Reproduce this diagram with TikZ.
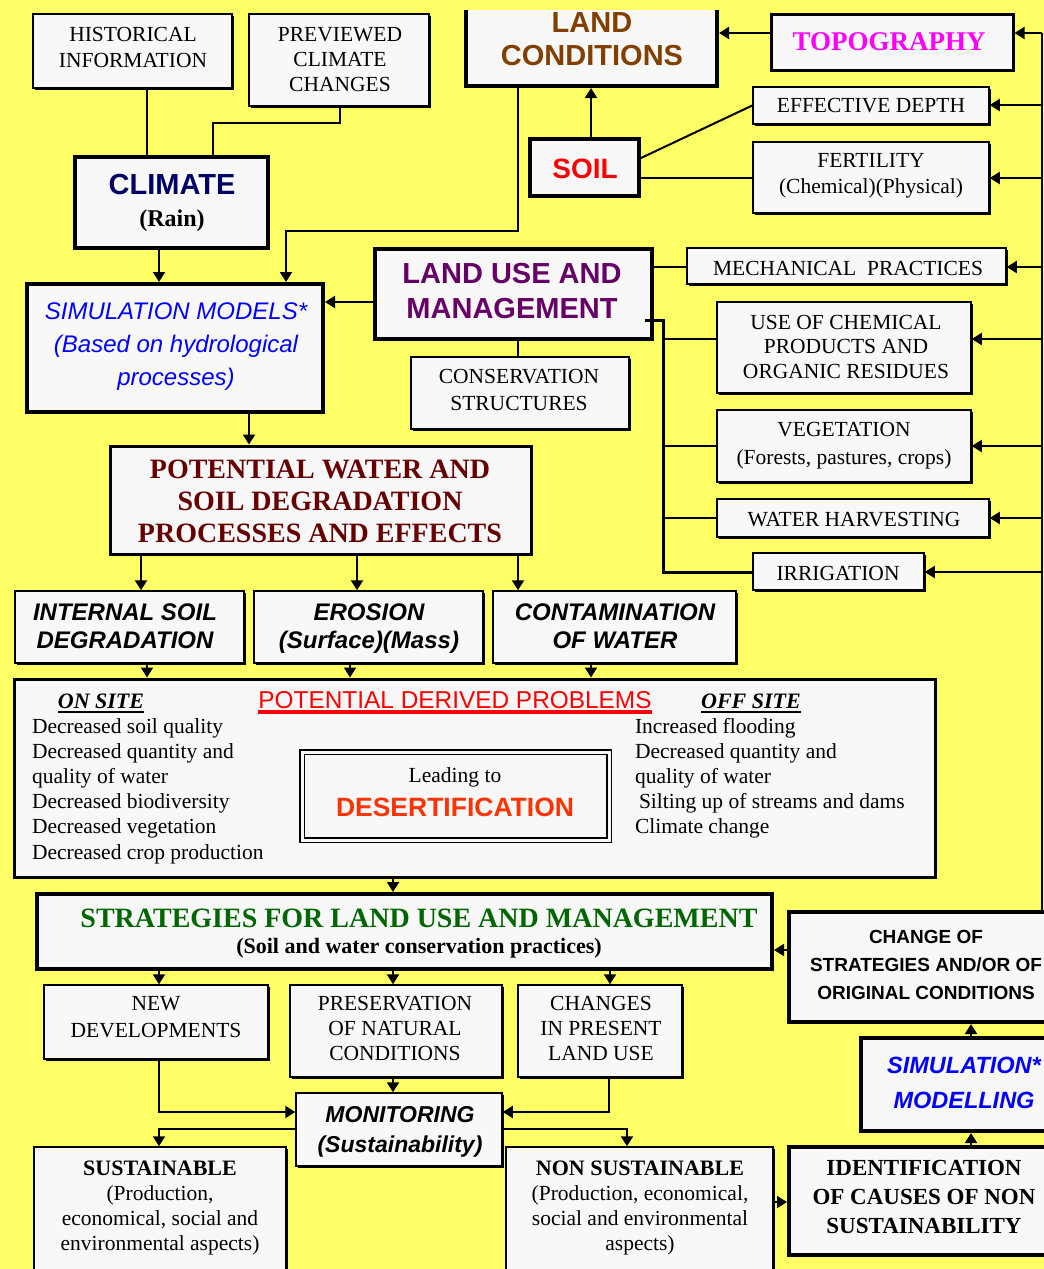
\documentclass[tikz,border=0pt]{standalone}
\usepackage{fontspec}
\setmainfont{Liberation Serif}
\setsansfont{Liberation Sans}
\usetikzlibrary{arrows.meta,shadows}
\definecolor{bg}{HTML}{FFFF66}
\definecolor{boxfill}{HTML}{F8F8F8}
\definecolor{navyc}{HTML}{000066}
\definecolor{brownc}{HTML}{804000}
\definecolor{magc}{HTML}{FF00FF}
\definecolor{purplec}{HTML}{660066}
\definecolor{bluec}{HTML}{0000FF}
\definecolor{darkredc}{HTML}{660000}
\definecolor{redc}{HTML}{FF0000}
\definecolor{desertc}{HTML}{FF3300}
\definecolor{greenc}{HTML}{006600}
\newcommand\fs[2]{\fontsize{#1}{#2}\selectfont}
\newcommand\ulbox[3]{\vtop{\hbox{#3}\kern#1pt\hrule height #2pt}}
\newcommand\bx[6]{\node[#1,minimum width={(#5-#3)*1pt},minimum height={(#6-#4)*1pt}] (#2) at ({(#3+#5)/2},{(#4+#6)/2}) {};}
\newcommand\tx[6][]{\node[txt,#1] (#2) at (#3,{#4-0.7*#5}) {\strut #6};}
\begin{document}
\begin{tikzpicture}[x=1pt,y=-1pt,
  conn/.style={draw=black,line width=2pt},
  arr/.style={conn,-{Triangle[length=10pt,width=12pt]}},
  thickbox/.style={draw,line width=4pt,fill=boxfill,inner sep=0pt},
  opentopbox/.style={fill=boxfill,inner sep=0pt,outer sep=0pt},
  medbox/.style={draw,line width=3pt,fill=boxfill,inner sep=0pt},
  thinbox/.style={draw,line width=1.5pt,fill=boxfill,inner sep=0pt,
    drop shadow={shadow xshift=1.8pt,shadow yshift=-1.8pt,fill=black,opacity=1}},
  dblbox/.style={draw,line width=1.5pt,double=boxfill,double distance=3pt,fill=boxfill,inner sep=0pt},
  txt/.style={inner sep=0pt,outer sep=0pt,anchor=north,align=center},
  rm/.style={font=\fs{21.5}{#1}},
]
\useasboundingbox (0,0) rectangle (1044,1269);
\fill[bg] (0,0) rectangle (1044,1269);
\begin{scope}
\clip (0,0) rectangle (1044,1269);
% ---------- boxes
\bx{thinbox}{hist}{33}{14}{232}{88}
\bx{thinbox}{prev}{249}{14}{429}{106}
\bx{thickbox}{climate}{75}{157}{268}{248}
\bx{opentopbox}{landcond}{466}{10}{717}{86}
\draw[line width=4pt] (landcond.north west) -- (landcond.south west) -- (landcond.south east) -- (landcond.north east);
\bx{medbox}{topo}{771}{14}{1013}{70}
\bx{thinbox}{effdepth}{753}{87}{989}{124}
\bx{thinbox}{fert}{753}{142}{989}{213}
\bx{thickbox}{soil}{530}{139}{639}{196}
\bx{thickbox}{landuse}{375}{249}{652}{339}
\bx{thickbox}{simmod}{27}{284}{323}{412}
\bx{thinbox}{cons}{411}{357}{629}{429}
\bx{thinbox}{mech}{687}{248}{1006}{284}
\bx{thinbox}{chem}{717}{302}{971}{393}
\bx{thinbox}{veg}{717}{410}{971}{482}
\bx{thinbox}{water}{717}{499}{989}{537}
\bx{thinbox}{irrig}{753}{553}{924}{590}
\bx{medbox}{potential}{110}{446}{531}{554}
\bx{thinbox}{internal}{15}{591}{244}{663}
\bx{thinbox}{erosion}{254}{591}{483}{663}
\bx{thinbox}{contam}{493}{591}{736}{663}
\bx{medbox}{problems}{14}{679}{935}{877}
\bx{dblbox}{desert}{302}{752}{609}{840}
\bx{thickbox}{strategies}{37}{894}{772}{969}
\bx{thinbox}{newdev}{44}{985}{268}{1059}
\bx{thinbox}{pres}{290}{985}{502}{1077}
\bx{thinbox}{changes}{518}{985}{682}{1077}
\bx{thinbox}{monitor}{296}{1093}{502}{1166}
\bx{thinbox}{sust}{34}{1147}{286}{1290}
\bx{thinbox}{nonsust}{506}{1147}{773}{1290}
\bx{thickbox}{ident}{789}{1147}{1070}{1255}
\bx{thickbox}{simmodel}{861}{1038}{1070}{1131}
\bx{thickbox}{change}{789}{912}{1070}{1022}
% ---------- connectors
\draw[conn] (147,0 |- hist.south) -- (147,0 |- climate.north);
\draw[conn] (340,0 |- prev.south) -- (340,123) -| (213,0 |- climate.north);
\draw[arr] (518,88) -- (518,231) -| (286,0 |- simmod.north);
\draw[arr] (topo.west |- 0,33) -- (719,33);
\draw[arr] (591,0 |- soil.north) -- (591,88);
\draw[conn] (soil.east |- 0,158) -- (effdepth.west);
\draw[conn] (soil.east |- 0,178) -- (fert.west |- 0,178);
\draw[conn] (1042,0 |- change.north) -- (1042,33);
\foreach \n/\y in {topo/33,effdepth/105,fert/178,mech/267,chem/339,veg/446,water/518,irrig/572}
  \draw[arr] (1042,\y) -- (\n.east |- 0,\y);
\draw[arr] (landuse.west |- 0,302) -- (simmod.east |- 0,302);
\draw[conn] (518,0 |- landuse.south) -- (518,0 |- cons.north);
\draw[conn] (landuse.east |- 0,267) -- (mech.west |- 0,267);
\draw[conn,line width=3pt] (645,320) -| (663,572) -- (irrig.west |- 0,572);
\foreach \n/\y in {chem/339,veg/446,water/518}
  \draw[conn,line width=2.5pt] (663,\y) -- (\n.west |- 0,\y);
\draw[arr] (159,0 |- climate.south) -- (159,0 |- simmod.north);
\draw[arr] (249,0 |- simmod.south) -- (249,0 |- potential.north);
\draw[arr] (141,0 |- potential.south) -- (141,0 |- internal.north);
\draw[arr] (357,0 |- potential.south) -- (357,0 |- erosion.north);
\draw[arr] (518,0 |- potential.south) -- (518,0 |- contam.north);
\draw[arr] (147,0 |- internal.south) -- (147,0 |- problems.north);
\draw[arr] (350,0 |- erosion.south) -- (350,0 |- problems.north);
\draw[arr] (591,0 |- contam.south) -- (591,0 |- problems.north);
\draw[arr] (393,0 |- problems.south) -- (393,0 |- strategies.north);
\draw[arr] (159,0 |- strategies.south) -- (159,0 |- newdev.north);
\draw[arr] (393,0 |- strategies.south) -- (393,0 |- pres.north);
\draw[arr] (610,0 |- strategies.south) -- (610,0 |- changes.north);
\draw[arr] (393,0 |- pres.south) -- (393,0 |- monitor.north);
\draw[arr] (159,0 |- newdev.south) |- (monitor.west |- 0,1112);
\draw[arr] (609,0 |- changes.south) |- (monitor.east |- 0,1112);
\draw[arr] (monitor.west |- 0,1129) -| (159,0 |- sust.north);
\draw[arr] (monitor.east |- 0,1129) -| (627,0 |- nonsust.north);
\draw[arr] (nonsust.east |- 0,1202) -- (ident.west |- 0,1202);
\draw[arr] (971,0 |- ident.north) -- (971,0 |- simmodel.south);
\draw[arr] (971,0 |- simmodel.north) -- (971,0 |- change.south);
\draw[arr] (change.west |- 0,950) -- (strategies.east |- 0,950);
% ---------- texts
\tx[rm=26]{thist}{133}{41}{26}{HISTORICAL\\INFORMATION}
\tx[rm=25]{tprev}{340}{41}{25}{PREVIEWED\\CLIMATE\\CHANGES}
\tx[font=\fs{29}{32}\sffamily\bfseries,text=navyc]{tclimate}{172}{194}{32}{CLIMATE\\{\rmfamily\color{black}\fs{24}{32}(Rain)}}
\tx[font=\fs{29}{33}\sffamily\bfseries,text=brownc]{tlandcond}{592}{32}{33}{LAND\\CONDITIONS}
\tx[font=\fs{27}{30}\bfseries,text=magc]{ttopo}{889}{50}{30}{TOPOGRAPHY}
\tx[rm=26]{teffdepth}{871}{112}{26}{EFFECTIVE DEPTH}
\tx[rm=26]{tfert}{871}{167}{26}{FERTILITY\\(Chemical)(Physical)}
\tx[font=\fs{28}{30}\sffamily\bfseries,text=redc]{tsoil}{585}{178}{30}{SOIL}
\tx[font=\fs{29}{35}\sffamily\bfseries,text=purplec]{tlanduse}{512}{283}{35}{LAND USE AND\\MANAGEMENT}
\tx[font=\fs{24}{33}\sffamily\itshape,text=bluec]{tsimmod}{176}{319}{33}{SIMULATION MODELS*\\(Based on hydrological\\processes)}
\tx[rm=27]{tcons}{519}{383}{27}{CONSERVATION\\STRUCTURES}
\tx[rm=26]{tmech}{848}{275}{26}{MECHANICAL\enspace PRACTICES}
\tx[rm=24.5]{tchem}{846}{329}{24.5}{USE OF CHEMICAL\\PRODUCTS AND\\ORGANIC RESIDUES}
\tx[rm=28]{tveg}{844}{436}{28}{VEGETATION\\(Forests, pastures, crops)}
\tx[rm=26]{twater}{854}{526}{26}{WATER HARVESTING}
\tx[rm=26]{tirrig}{838}{580}{26}{IRRIGATION}
\tx[font=\fs{28}{32}\bfseries,text=darkredc]{tpot}{320}{478}{32}{POTENTIAL WATER AND\\SOIL DEGRADATION\\PROCESSES AND EFFECTS}
\tx[font=\fs{24}{28}\sffamily\bfseries\itshape]{tint}{125}{620}{28}{INTERNAL SOIL\\DEGRADATION}
\tx[font=\fs{24}{28}\sffamily\bfseries\itshape]{tero}{369}{620}{28}{EROSION\\(Surface)(Mass)}
\tx[font=\fs{24}{28}\sffamily\bfseries\itshape]{tcont}{615}{620}{28}{CONTAMINATION\\OF WATER}
\tx[font=\fs{22}{26}\bfseries\itshape]{tonsite}{101}{708}{26}{\ulbox{3}{2}{ON SITE}}
\tx[font=\fs{24.4}{28}\sffamily,text=redc]{tprobtitle}{455}{708}{28}{\ulbox{2}{3.5}{POTENTIAL DERIVED PROBLEMS}}
\tx[font=\fs{22}{26}\bfseries\itshape]{toffsite}{751}{708}{26}{\ulbox{3}{2}{OFF SITE}}
\tx[rm=25.2,anchor=north west,align=left]{tonlist}{32}{733}{25.2}{Decreased soil quality\\Decreased quantity and\\quality of water\\Decreased biodiversity\\Decreased vegetation\\Decreased crop production}
\tx[rm=25.2,anchor=north west,align=left]{tofflist}{635}{733}{25.2}{Increased flooding\\Decreased quantity and\\quality of water\\\hspace{4pt}Silting up of streams and dams\\Climate change}
\tx[rm=34]{tdesert}{455}{782}{34}{Leading to\\{\sffamily\bfseries\color{desertc}\fs{26.5}{34}DESERTIFICATION}}
\tx[font=\fs{28}{26}\bfseries,text=greenc]{tstrat}{419}{927}{26}{STRATEGIES FOR LAND USE AND MANAGEMENT\\{\color{black}\fs{22}{26}(Soil and water conservation practices)}}
\tx[rm=27]{tnewdev}{156}{1010}{27}{NEW\\DEVELOPMENTS}
\tx[rm=25]{tpres}{395}{1010}{25}{PRESERVATION\\OF NATURAL\\CONDITIONS}
\tx[rm=25]{tchanges}{601}{1010}{25}{CHANGES\\IN PRESENT\\LAND USE}
\tx[font=\fs{23}{30}\sffamily\bfseries\itshape]{tmon}{400}{1122}{30}{MONITORING\\(Sustainability)}
\tx[rm=25]{tsust}{160}{1175}{25}{{\bfseries\fs{22}{25}SUSTAINABLE}\\(Production,\\economical, social and\\environmental aspects)}
\tx[rm=25]{tnonsust}{640}{1175}{25}{{\bfseries\fs{22}{25}NON SUSTAINABLE}\\(Production, economical,\\social and environmental\\aspects)}
\tx[font=\fs{23}{29}\bfseries]{tident}{924}{1175}{29}{IDENTIFICATION\\OF CAUSES OF NON\\SUSTAINABILITY}
\tx[font=\fs{23.5}{35}\sffamily\bfseries\itshape,text=bluec]{tsimmodel}{964}{1073}{35}{SIMULATION*\\MODELLING}
\tx[font=\fs{19}{28}\sffamily\bfseries]{tchange}{926}{943}{28}{CHANGE OF\\STRATEGIES AND/OR OF\\ORIGINAL CONDITIONS}
\end{scope}
\end{tikzpicture}
\end{document}
